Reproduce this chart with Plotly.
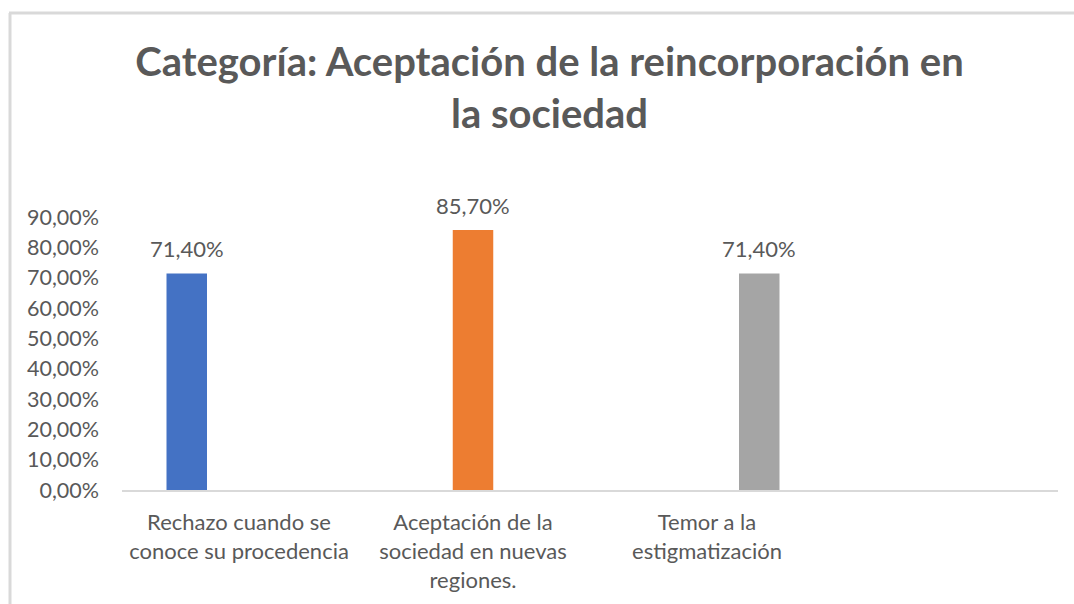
import plotly.graph_objects as go

# ---- data ----
categories = ["Rechazo cuando se<br>conoce su procedencia",
              "Aceptación de la<br>sociedad en nuevas<br>regiones.",
              "Temor a la<br>estigmatización"]
series_names = ["Rechazo cuando se conoce su procedencia",
                "Aceptación de la sociedad en nuevas regiones.",
                "Temor a la estigmatización"]
values = [0.714, 0.857, 0.714]
colors = ["#4472C4", "#ED7D31", "#A5A5A5"]
y_ticks = [0, 0.1, 0.2, 0.3, 0.4, 0.5, 0.6, 0.7, 0.8, 0.9]
title_text = "Categoría: Aceptación de la reincorporación en<br>la sociedad"

W, H = 1074, 604
L, R, T, B = 122, 16, 217, 114
pw, ph = W - L - R, H - T - B
n_slots = 4                      # category slots on the axis (last one empty)
unit = pw / n_slots              # pixels per category
slot_w = 52.25 / unit            # spacing between series within a group
bar_w = 40.5 / unit              # bar width in data units


def px_x(x):
    return (x - L) / pw


def px_y(y):
    return (H - B - y) / ph


grey = "#595959"
fig = go.Figure()
annotations = []
for i, (name, v, c) in enumerate(zip(series_names, values, colors)):
    center_off = (i - (len(values) - 1) / 2) * slot_w
    fig.add_trace(go.Bar(
        x=[i], y=[v], name=name,
        width=[bar_w], offset=[center_off - bar_w / 2],
        marker=dict(color=c, line=dict(width=0)),
        showlegend=False,
    ))
    annotations.append(dict(
        x=i + center_off, y=v, xref="x", yref="y",
        text=f"{v * 100:.2f}%".replace(".", ","),
        showarrow=False, yanchor="bottom", yshift=9,
        font=dict(family="Lato", size=22, color=grey),
    ))

fig.update_layout(
    width=W, height=H,
    margin=dict(l=L, r=R, t=T, b=B, autoexpand=False),
    paper_bgcolor="white", plot_bgcolor="white",
    barmode="overlay",
    separators=",.",
    title=dict(text=title_text, x=549.5 / W, xanchor="center",
               y=1 - 76 / H, yanchor="middle",
               font=dict(family="Lato", size=40, color=grey, weight="bold")),
    xaxis=dict(range=[-0.5, n_slots - 0.5], tickmode="array",
               tickvals=list(range(len(categories))), ticktext=categories,
               showgrid=False, zeroline=False, showline=True,
               linecolor="#D9D9D9", linewidth=2, ticks="",
               tickfont=dict(family="Lato", size=22, color=grey),
               ticklabelstandoff=12),
    yaxis=dict(range=[0, 0.9], tickmode="array", tickvals=y_ticks,
               tickformat=".2%", showgrid=False, zeroline=False,
               showline=False, ticks="",
               tickfont=dict(family="Lato", size=21.5, color=grey),
               ticklabelstandoff=22),
    annotations=annotations,
    shapes=[
        dict(type="line", xref="paper", yref="paper",
             x0=px_x(9), x1=px_x(1074), y0=px_y(13), y1=px_y(13),
             line=dict(color="#D9D9D9", width=3)),
        dict(type="line", xref="paper", yref="paper",
             x0=px_x(10), x1=px_x(10), y0=px_y(13), y1=px_y(604),
             line=dict(color="#D9D9D9", width=3)),
    ],
)

fig.write_html("out.html",
               config={"displayModeBar": False},
               post_script="document.body.style.margin='0';"
                           "document.body.style.overflow='hidden';")
